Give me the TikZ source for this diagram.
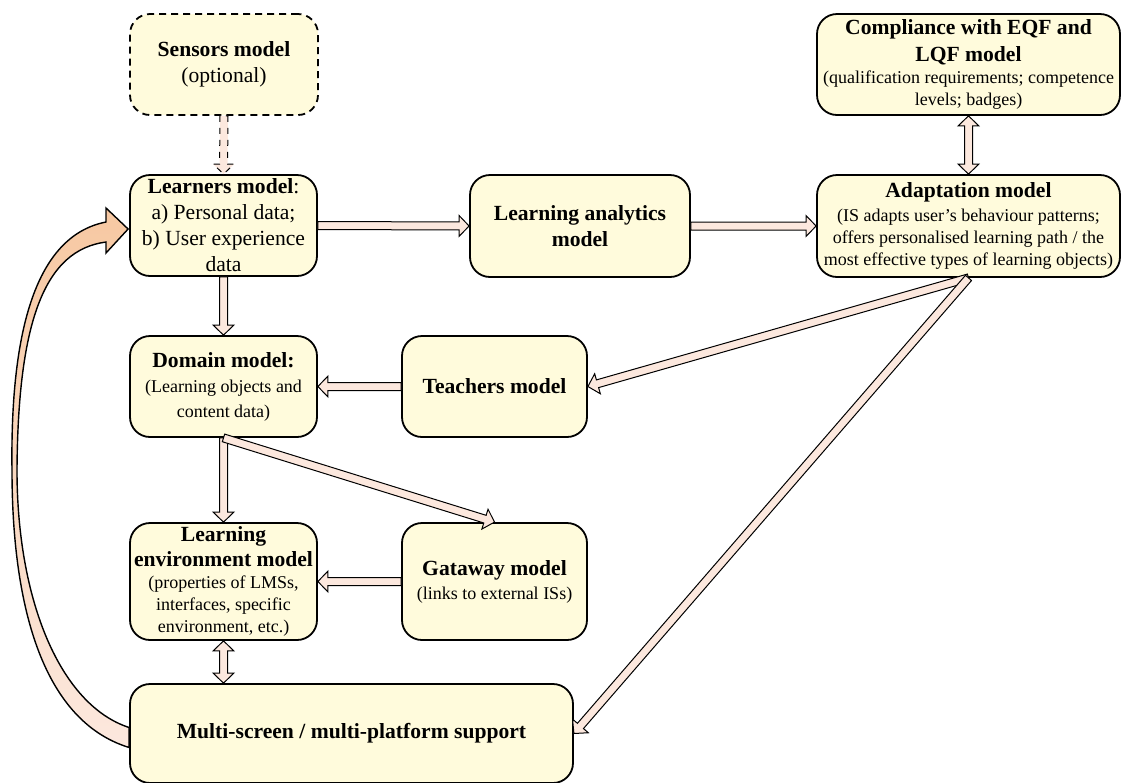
\documentclass[tikz,border=0pt]{standalone}
\usepackage{fontspec}
\setmainfont{Liberation Serif}
\usetikzlibrary{calc}

\definecolor{boxfill}{HTML}{FFFBDC}
\definecolor{arrowfill}{HTML}{FCE8DE}
\definecolor{loophead}{HTML}{F7C8A2}

\newcommand{\mtitle}[1]{{\fontsize{10.8}{13}\selectfont\bfseries #1}}
\newcommand{\shaftw}{2pt}
\newcommand{\headw}{5.2pt}
\newcommand{\headlen}{5pt}

\tikzset{
  model/.style={draw, line width=0.9pt, rounded corners=10pt, fill=boxfill,
    align=center, inner sep=1pt, font=\fontsize{9}{11}\selectfont},
  big/.style={font=\fontsize{10.8}{13}\selectfont},
  bigb/.style={font=\fontsize{10.8}{13}\selectfont\bfseries},
  arrowbody/.style={draw, line width=0.5pt, fill=arrowfill, line join=miter},
}

\newcommand{\blockarrow}[3][]{%
  \path (#2) coordinate (ba-s) (#3) coordinate (ba-e);
  \coordinate (ba-h) at ($(ba-e)!\headlen!(ba-s)$);
  \filldraw[arrowbody,#1]
    ($(ba-s)!\shaftw!90:(ba-e)$) -- ($(ba-h)!\shaftw!90:(ba-e)$)
    -- ($(ba-h)!\headw!90:(ba-e)$) -- (ba-e)
    -- ($(ba-h)!\headw!-90:(ba-e)$) -- ($(ba-h)!\shaftw!-90:(ba-e)$)
    -- ($(ba-s)!\shaftw!-90:(ba-e)$) -- cycle;
}
\newcommand{\blockarrowboth}[3][]{%
  \path (#2) coordinate (ba-s) (#3) coordinate (ba-e);
  \coordinate (ba-h) at ($(ba-e)!\headlen!(ba-s)$);
  \coordinate (ba-t) at ($(ba-s)!\headlen!(ba-e)$);
  \filldraw[arrowbody,#1]
    (ba-s) -- ($(ba-t)!\headw!90:(ba-e)$) -- ($(ba-t)!\shaftw!90:(ba-e)$)
    -- ($(ba-h)!\shaftw!90:(ba-e)$) -- ($(ba-h)!\headw!90:(ba-e)$) -- (ba-e)
    -- ($(ba-h)!\headw!-90:(ba-e)$) -- ($(ba-h)!\shaftw!-90:(ba-e)$)
    -- ($(ba-t)!\shaftw!-90:(ba-e)$) -- ($(ba-t)!\headw!-90:(ba-e)$) -- cycle;
}

\begin{document}
\begin{tikzpicture}[x=0.5pt, y=-0.5pt]
  \useasboundingbox (0,0) rectangle (1121,783);

  \node[model, big, dash pattern=on 3.5pt off 2.5pt, minimum width=94pt, minimum height=50.5pt]
    (sensors) at (224,64.5) {\mtitle{Sensors model}\\ (optional)};
  \node[model, big, minimum width=93.5pt, minimum height=50.5pt] (learners) at (223.5,225.5)
    {{\bfseries Learners model}:\\ a) Personal data;\\ b) User experience\\ data};
  \node[model, bigb, minimum width=110pt, minimum height=51pt] (analytics) at (580,226)
    {Learning analytics\\ model};
  \node[model, minimum width=151.5pt, minimum height=50.5pt] (compliance) at (968.5,64.5)
    {\mtitle{Compliance with EQF and}\\[2.5pt] \mtitle{LQF model}\\
     (qualification requirements; competence\\ levels; badges)};
  \node[model, minimum width=151.5pt, minimum height=51pt] (adaptation) at (968.5,226)
    {\mtitle{Adaptation model}\\[1pt] (IS adapts user’s behaviour patterns;\\
     offers personalised learning path / the\\ most effective types of learning objects)};
  \node[model, minimum width=93.5pt, minimum height=50.5pt] (domain) at (223.5,386.5)
    {\mtitle{Domain model:}\\[1.5pt] (Learning objects and\\[1.5pt] content data)};
  \node[model, bigb, minimum width=92.5pt, minimum height=50.5pt] (teachers) at (494.5,386.5)
    {Teachers model};
  \node[model, minimum width=93.5pt, minimum height=58.5pt] (learnenv) at (223.5,581.5)
    {\mtitle{Learning}\\[1.5pt] \mtitle{environment model}\\ (properties of LMSs,\\
     interfaces, specific\\ environment, etc.)};
  \node[model, minimum width=92.5pt, minimum height=58.5pt] (gataway) at (494.5,581.5)
    {\mtitle{Gataway model}\\[1pt] (links to external ISs)};
  \node[model, bigb, minimum width=221.5pt, minimum height=49.5pt] (multi) at (351.5,733.5)
    {Multi-screen / multi-platform support};

  \blockarrow[dashed]{sensors.south}{learners.north}
  \blockarrow{learners.south}{domain.north}
  \blockarrow{learners.east}{analytics.west}
  \blockarrow{analytics.east}{adaptation.west}
  \blockarrowboth{compliance.south}{adaptation.north}
  \blockarrow{adaptation.south}{teachers.east}
  \blockarrow{adaptation.south}{multi.east}
  \blockarrow{teachers.west}{domain.east}
  \blockarrow{domain.south}{learnenv.north}
  \blockarrow{domain.south}{gataway.north}
  \blockarrow{gataway.west}{learnenv.east}
  \blockarrowboth{learnenv.south}{learnenv.south |- multi.north}

  \filldraw[line width=0.7pt, draw=black, top color=loophead, bottom color=arrowfill]
    ($(multi.west)+(0,14)$) .. controls (40,720) and (12,600) .. (12,470)
    .. controls (10,320) and (40,235) .. (106,222)
    -- (106,208) -- ($(learners.west)+(-1,3.5)$) -- (106,253) -- (106,242)
    .. controls (45,250) and (18,320) .. (17,470)
    .. controls (17,600) and (60,705) .. ($(multi.west)+(0,-6)$) -- cycle;
\end{tikzpicture}
\end{document}
